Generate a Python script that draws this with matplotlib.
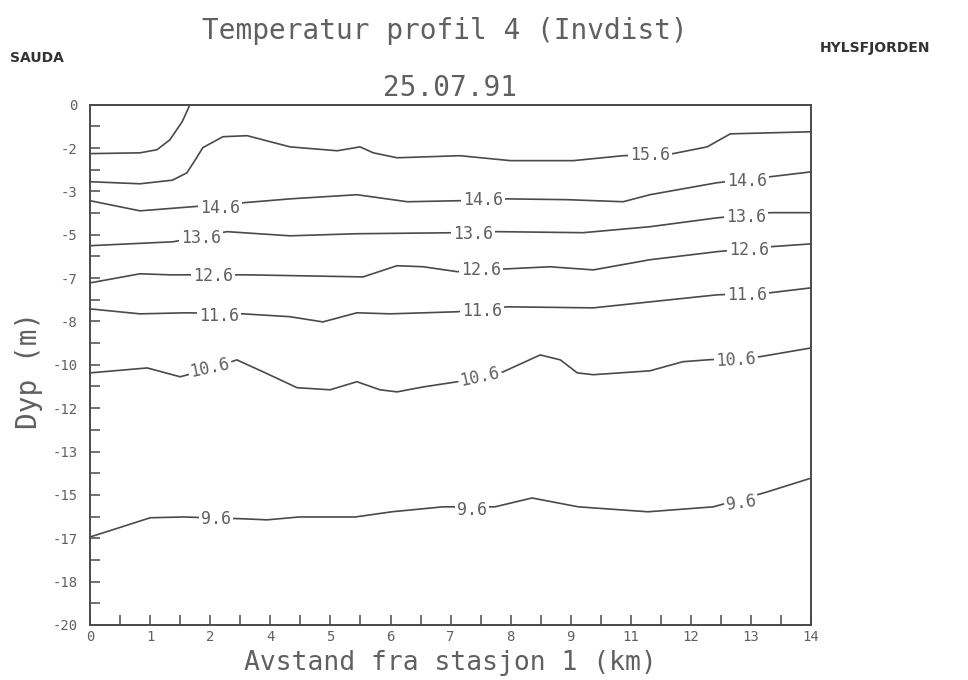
"""Temperature section, profile 4 (inverse-distance gridded), 25.07.91.

Isotherms read off a scanned plotter sheet, redrawn as labelled lines.
"""

import matplotlib

matplotlib.use("Agg")
import matplotlib.pyplot as plt
import numpy as np

# isotherms: distance (km) and depth (m, negative down)
x_166 = [0.0, 0.97, 1.3, 1.55, 1.79, 1.94]
d_166 = [-1.88, -1.85, -1.73, -1.35, -0.65, 0.0]

x_156 = [0.0, 0.97, 1.6, 1.88, 2.05, 2.19, 2.58, 3.05, 3.88, 4.80, 5.24, 5.50,
         5.96, 7.18, 8.16, 9.38, 10.35, 11.32, 11.98, 12.43, 14.0]
d_156 = [-2.96, -3.04, -2.9, -2.62, -2.1, -1.65, -1.23, -1.19, -1.62, -1.77,
         -1.62, -1.85, -2.04, -1.96, -2.15, -2.15, -1.96, -1.88, -1.62, -1.12,
         -1.04]

x_146 = [0.0, 0.97, 2.0, 2.97, 3.88, 5.18, 6.16, 7.18, 8.10, 9.26, 10.35,
         10.87, 12.17, 13.2, 14.0]
d_146 = [-3.69, -4.08, -3.92, -3.77, -3.62, -3.46, -3.73, -3.69, -3.62, -3.65,
         -3.73, -3.46, -3.0, -2.77, -2.58]

x_136 = [0.0, 1.61, 2.66, 3.88, 5.18, 7.13, 7.90, 9.57, 10.87, 12.17, 13.2, 14.0]
d_136 = [-5.42, -5.27, -4.88, -5.04, -4.96, -4.92, -4.88, -4.92, -4.69, -4.35,
         -4.15, -4.15]

x_126 = [0.0, 0.97, 1.55, 3.05, 5.30, 5.96, 6.47, 7.13, 8.10, 8.93, 9.77,
         10.87, 12.17, 13.2, 14.0]
d_126 = [-6.85, -6.5, -6.54, -6.54, -6.62, -6.19, -6.23, -6.42, -6.31, -6.23,
         -6.35, -5.96, -5.65, -5.46, -5.35]

x_116 = [0.0, 0.97, 1.88, 2.97, 3.88, 4.52, 5.18, 5.83, 7.13, 8.10, 9.77,
         10.87, 12.17, 13.2, 14.0]
d_116 = [-7.85, -8.04, -8.0, -8.04, -8.15, -8.35, -8.0, -8.04, -7.96, -7.77,
         -7.81, -7.58, -7.31, -7.23, -7.04]

x_106 = [0.0, 1.11, 1.75, 2.33, 2.85, 3.36, 4.02, 4.66, 5.18, 5.63, 5.96,
         6.47, 7.13, 8.02, 8.74, 9.13, 9.46, 9.77, 10.87, 11.51, 11.98, 13.0, 14.0]
d_106 = [-10.31, -10.12, -10.46, -10.15, -9.81, -10.27, -10.88, -10.96, -10.65,
         -10.96, -11.04, -10.85, -10.65, -10.27, -9.62, -9.81, -10.31, -10.38,
         -10.23, -9.88, -9.81, -9.69, -9.35]

x_96 = [0.0, 1.17, 1.81, 2.97, 3.44, 4.06, 5.15, 5.86, 6.85, 7.86, 8.58, 9.48,
        10.83, 12.10, 13.09, 13.96]
d_96 = [-16.62, -15.88, -15.85, -15.92, -15.96, -15.85, -15.85, -15.65, -15.46,
        -15.46, -15.12, -15.46, -15.65, -15.46, -14.92, -14.38]

# inline contour labels: text, distance, depth, rotation
label_text = ["15.6",
              "14.6", "14.6", "14.6",
              "13.6", "13.6", "13.6",
              "12.6", "12.6", "12.6",
              "11.6", "11.6", "11.6",
              "10.6", "10.6", "10.6",
              "9.6", "9.6", "9.6"]
label_x = [10.87,
           2.52, 7.63, 12.76,
           2.16, 7.44, 12.74,
           2.39, 7.59, 12.8,
           2.5, 7.61, 12.76,
           2.33, 7.57, 12.54,
           2.45, 7.42, 12.64]
label_d = [-1.92,
           -3.96, -3.65, -2.92,
           -5.12, -4.96, -4.31,
           -6.58, -6.35, -5.58,
           -8.12, -7.92, -7.31,
           -10.12, -10.46, -9.81,
           -15.92, -15.58, -15.31]
label_rot = [0,
             0, 0, 0,
             0, 0, 0,
             0, 0, 0,
             0, 0, 0,
             12, 12, 3,
             0, 0, 8]

# plotter axis labels are rounded values of 12 equal steps
xtick_labels = ["0", "1", "2", "4", "5", "6", "7", "8", "9", "11", "12", "13", "14"]
ytick_labels = ["0", "-2", "-3", "-5", "-7", "-8", "-10", "-12", "-13", "-15",
                "-17", "-18", "-20"]

LINE = "#4a4a4a"
TEXT = "#606060"
MONO = "DejaVu Sans Mono"

fig = plt.figure(figsize=(9.68, 6.8), dpi=100)
ax = fig.add_axes([0.093, 0.081, 0.745, 0.765])

for xs, ds in [(x_166, d_166), (x_156, d_156), (x_146, d_146), (x_136, d_136),
               (x_126, d_126), (x_116, d_116), (x_106, d_106), (x_96, d_96)]:
    ax.plot(xs, ds, color=LINE, lw=1.2, solid_joinstyle="round", zorder=2)

for t, lx, ld, r in zip(label_text, label_x, label_d, label_rot):
    ax.text(lx, ld, t, ha="center", va="center", rotation=r, family=MONO,
            fontsize=12, color=TEXT, zorder=3,
            bbox=dict(boxstyle="square,pad=0.12", fc="white", ec="none"))

ax.set_xlim(0, 14)
ax.set_ylim(-20, 0)
ax.set_xticks(np.linspace(0, 14, 13))
ax.set_xticklabels(xtick_labels)
ax.set_xticks(np.linspace(0, 14, 25), minor=True)
ax.set_yticks(np.linspace(0, -20, 13))
ax.set_yticklabels(ytick_labels)
ax.set_yticks(np.linspace(0, -20, 25), minor=True)
ax.tick_params(which="both", direction="in", length=7, width=1.1, color=LINE,
               top=False, right=False)
ax.tick_params(which="major", labelsize=10, labelcolor=TEXT)
ax.tick_params(axis="x", which="major", pad=4)
ax.tick_params(axis="y", which="major", pad=9)
for lab in ax.get_xticklabels() + ax.get_yticklabels():
    lab.set_family(MONO)
for sp in ax.spines.values():
    sp.set_color(LINE)
    sp.set_linewidth(1.4)

ax.set_xlabel("Avstand fra stasjon 1 (km)", family=MONO, fontsize=19,
              color=TEXT, va="center")
ax.xaxis.set_label_coords(0.5, -0.074)
ax.set_ylabel("Dyp (m)", family=MONO, fontsize=20, color=TEXT, va="center")
ax.yaxis.set_label_coords(-0.085, 0.49)

fig.text(0.46, 0.955, "Temperatur profil 4 (Invdist)", ha="center",
         va="center", family=MONO, fontsize=20, color=TEXT)
fig.text(0.465, 0.87, "25.07.91", ha="center", va="center", family=MONO,
         fontsize=20, color=TEXT)
fig.text(0.01, 0.915, "SAUDA", ha="left", va="center", fontsize=10,
         fontweight="bold", color="#333333")
fig.text(0.847, 0.93, "HYLSFJORDEN", ha="left", va="center", fontsize=10,
         fontweight="bold", color="#333333")

fig.savefig("out.png", dpi=100)
plt.close(fig)
